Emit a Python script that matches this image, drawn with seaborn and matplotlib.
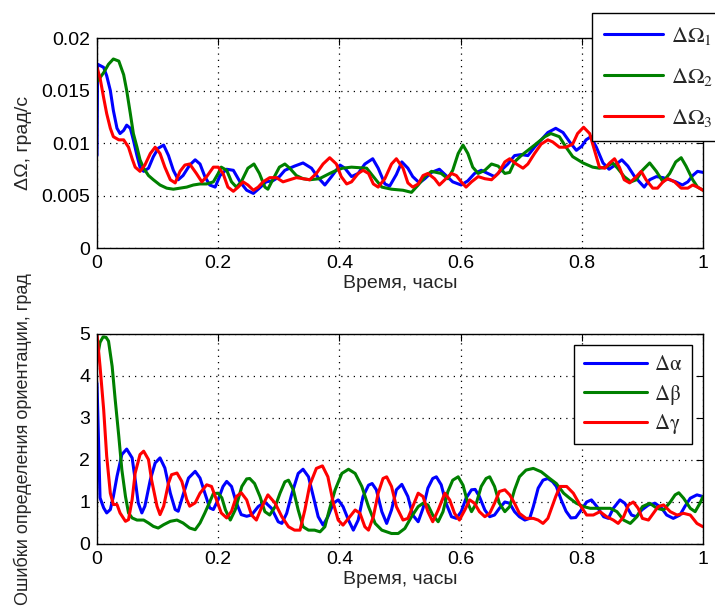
import pandas as pd
import seaborn as sns
import matplotlib.pyplot as plt
from matplotlib.lines import Line2D

# angular rate errors, (time in hours, value in deg/s)
rate_1 = [(0, 0.0088), (0.001, 0.0175), (0.011, 0.0172), (0.016, 0.0164), (0.022, 0.0150), (0.027, 0.0131),
          (0.033, 0.0114), (0.038, 0.0109), (0.044, 0.0112), (0.049, 0.0117), (0.055, 0.0114), (0.06, 0.0103),
          (0.066, 0.0088), (0.071, 0.0077), (0.077, 0.0073), (0.085, 0.0076), (0.093, 0.0087), (0.101, 0.0095),
          (0.11, 0.0098), (0.118, 0.0088), (0.126, 0.0074), (0.134, 0.0065), (0.142, 0.0069), (0.153, 0.0079),
          (0.162, 0.0084), (0.17, 0.0080), (0.178, 0.0068), (0.186, 0.0060), (0.195, 0.0058), (0.203, 0.0069),
          (0.214, 0.0075), (0.225, 0.0074), (0.236, 0.0063), (0.247, 0.0055), (0.258, 0.0052), (0.268, 0.0057),
          (0.279, 0.0063), (0.29, 0.0064), (0.301, 0.0068), (0.31, 0.0074), (0.326, 0.0078), (0.34, 0.0081),
          (0.354, 0.0076), (0.365, 0.0067), (0.376, 0.0060), (0.387, 0.0068), (0.401, 0.0079), (0.409, 0.0076),
          (0.42, 0.0068), (0.431, 0.0071), (0.442, 0.0080), (0.455, 0.0085), (0.464, 0.0076), (0.475, 0.0061),
          (0.483, 0.0059), (0.494, 0.0070), (0.503, 0.0082), (0.513, 0.0076), (0.521, 0.0068), (0.532, 0.0062),
          (0.541, 0.0066), (0.552, 0.0072), (0.565, 0.0075), (0.576, 0.0069), (0.587, 0.0063), (0.601, 0.0060),
          (0.612, 0.0064), (0.623, 0.0071), (0.634, 0.0074), (0.645, 0.0071), (0.656, 0.0068), (0.667, 0.0074),
          (0.678, 0.0080), (0.689, 0.0088), (0.7, 0.0089), (0.711, 0.0088), (0.722, 0.0096), (0.733, 0.0103),
          (0.744, 0.0110), (0.757, 0.0114), (0.769, 0.0110), (0.78, 0.0101), (0.791, 0.0093), (0.8, 0.0097),
          (0.807, 0.0103), (0.815, 0.0106), (0.824, 0.0096), (0.835, 0.0081), (0.845, 0.0075), (0.855, 0.0079),
          (0.866, 0.0084), (0.876, 0.0078), (0.886, 0.0069), (0.895, 0.0063), (0.903, 0.0058), (0.912, 0.0065),
          (0.923, 0.0068), (0.934, 0.0067), (0.945, 0.0065), (0.955, 0.0063), (0.966, 0.0060), (0.975, 0.0063),
          (0.983, 0.0069), (0.991, 0.0073), (1.0, 0.0072)]

rate_2 = [(0.001, 0.0159), (0.011, 0.0167), (0.019, 0.0175), (0.027, 0.0180), (0.036, 0.0178), (0.044, 0.0165),
          (0.049, 0.0150), (0.055, 0.0128), (0.06, 0.0109), (0.066, 0.0096), (0.071, 0.0084), (0.077, 0.0076),
          (0.085, 0.0069), (0.093, 0.0065), (0.104, 0.0060), (0.115, 0.0057), (0.126, 0.0056), (0.137, 0.0057),
          (0.148, 0.0058), (0.159, 0.0060), (0.17, 0.0061), (0.181, 0.0061), (0.192, 0.0063), (0.2, 0.0071),
          (0.205, 0.0077), (0.214, 0.0074), (0.222, 0.0063), (0.23, 0.0058), (0.238, 0.0063), (0.249, 0.0076),
          (0.259, 0.0080), (0.268, 0.0071), (0.277, 0.0058), (0.282, 0.0056), (0.29, 0.0065), (0.301, 0.0077),
          (0.31, 0.0080), (0.318, 0.0076), (0.329, 0.0069), (0.34, 0.0066), (0.351, 0.0065), (0.367, 0.0066),
          (0.384, 0.0071), (0.395, 0.0074), (0.405, 0.0076), (0.42, 0.0077), (0.445, 0.0076), (0.456, 0.0068),
          (0.47, 0.0058), (0.486, 0.0056), (0.505, 0.0055), (0.519, 0.0053), (0.53, 0.0060), (0.541, 0.0068),
          (0.552, 0.0073), (0.568, 0.0071), (0.579, 0.0066), (0.587, 0.0074), (0.596, 0.0090), (0.604, 0.0098),
          (0.612, 0.0090), (0.62, 0.0077), (0.629, 0.0071), (0.64, 0.0074), (0.651, 0.0080), (0.662, 0.0078),
          (0.673, 0.0071), (0.681, 0.0072), (0.689, 0.0082), (0.7, 0.0088), (0.711, 0.0093), (0.722, 0.0098),
          (0.739, 0.0106), (0.749, 0.0109), (0.763, 0.0106), (0.774, 0.0096), (0.785, 0.0087), (0.802, 0.0081),
          (0.818, 0.0077), (0.829, 0.0076), (0.84, 0.0077), (0.851, 0.0081), (0.859, 0.0076), (0.87, 0.0068),
          (0.881, 0.0063), (0.89, 0.0065), (0.9, 0.0074), (0.912, 0.0081), (0.923, 0.0073), (0.934, 0.0063),
          (0.945, 0.0071), (0.955, 0.0082), (0.964, 0.0086), (0.972, 0.0078), (0.983, 0.0065), (0.991, 0.0058),
          (1.0, 0.0055)]

rate_3 = [(0, 0.0172), (0.005, 0.0162), (0.011, 0.0143), (0.016, 0.0128), (0.022, 0.0114), (0.027, 0.0106),
          (0.036, 0.0103), (0.044, 0.0103), (0.052, 0.0096), (0.058, 0.0085), (0.063, 0.0077), (0.071, 0.0073),
          (0.079, 0.0079), (0.088, 0.0090), (0.096, 0.0096), (0.104, 0.0090), (0.112, 0.0077), (0.121, 0.0065),
          (0.129, 0.0062), (0.137, 0.0073), (0.145, 0.0079), (0.153, 0.0080), (0.164, 0.0071), (0.173, 0.0063),
          (0.181, 0.0068), (0.192, 0.0077), (0.2, 0.0077), (0.208, 0.0071), (0.216, 0.0058), (0.225, 0.0054),
          (0.233, 0.0058), (0.241, 0.0063), (0.249, 0.0060), (0.258, 0.0055), (0.266, 0.0058), (0.274, 0.0063),
          (0.285, 0.0067), (0.296, 0.0067), (0.307, 0.0063), (0.318, 0.0065), (0.329, 0.0067), (0.34, 0.0066),
          (0.351, 0.0065), (0.362, 0.0071), (0.373, 0.0080), (0.384, 0.0086), (0.395, 0.0080), (0.403, 0.0068),
          (0.412, 0.0061), (0.42, 0.0063), (0.431, 0.0071), (0.439, 0.0074), (0.448, 0.0071), (0.456, 0.0061),
          (0.464, 0.0058), (0.475, 0.0066), (0.486, 0.0080), (0.494, 0.0085), (0.505, 0.0076), (0.513, 0.0062),
          (0.521, 0.0058), (0.53, 0.0061), (0.538, 0.0069), (0.546, 0.0071), (0.557, 0.0066), (0.565, 0.0060),
          (0.574, 0.0065), (0.585, 0.0071), (0.593, 0.0069), (0.601, 0.0063), (0.609, 0.0058), (0.618, 0.0063),
          (0.629, 0.0068), (0.64, 0.0066), (0.651, 0.0065), (0.662, 0.0071), (0.673, 0.0082), (0.681, 0.0085),
          (0.692, 0.0080), (0.703, 0.0076), (0.711, 0.0080), (0.722, 0.0090), (0.733, 0.0099), (0.744, 0.0103),
          (0.752, 0.0101), (0.763, 0.0096), (0.774, 0.0096), (0.785, 0.0099), (0.793, 0.0109), (0.803, 0.0115),
          (0.813, 0.0109), (0.821, 0.0093), (0.829, 0.0077), (0.838, 0.0076), (0.846, 0.0081), (0.854, 0.0085),
          (0.862, 0.0077), (0.87, 0.0065), (0.879, 0.0062), (0.89, 0.0068), (0.898, 0.0073), (0.906, 0.0065),
          (0.917, 0.0057), (0.925, 0.0057), (0.934, 0.0063), (0.942, 0.0066), (0.953, 0.0063), (0.964, 0.0057),
          (0.975, 0.0057), (0.983, 0.0060), (0.991, 0.0058), (1.0, 0.0055)]

# attitude errors, (time in hours, value in deg)
alpha_err = [(0, 3.83), (0.005, 1.10), (0.011, 0.86), (0.016, 0.74), (0.022, 0.82), (0.027, 1.13), (0.033, 1.61),
             (0.041, 2.13), (0.049, 2.26), (0.058, 2.05), (0.063, 1.53), (0.068, 0.98), (0.074, 0.74), (0.079, 0.90),
             (0.088, 1.53), (0.096, 1.93), (0.104, 2.05), (0.112, 1.81), (0.121, 1.21), (0.129, 0.82), (0.134, 0.78),
             (0.142, 1.17), (0.151, 1.57), (0.162, 1.73), (0.17, 1.57), (0.178, 1.21), (0.186, 0.86), (0.192, 0.82),
             (0.2, 1.06), (0.208, 1.37), (0.214, 1.49), (0.222, 1.37), (0.23, 0.98), (0.238, 0.70), (0.247, 0.66),
             (0.255, 0.69), (0.266, 0.89), (0.277, 1.00), (0.288, 0.85), (0.299, 0.53), (0.305, 0.49), (0.313, 0.73),
             (0.321, 1.17), (0.332, 1.68), (0.34, 1.78), (0.349, 1.60), (0.357, 1.13), (0.365, 0.65), (0.373, 0.45),
             (0.381, 0.65), (0.39, 0.97), (0.398, 1.05), (0.406, 0.89), (0.415, 0.57), (0.423, 0.33), (0.431, 0.57),
             (0.439, 1.13), (0.448, 1.40), (0.454, 1.44), (0.461, 1.29), (0.47, 0.77), (0.478, 0.49), (0.486, 0.81),
             (0.494, 1.29), (0.503, 1.42), (0.513, 1.13), (0.521, 0.69), (0.53, 0.53), (0.538, 0.85), (0.546, 1.33),
             (0.554, 1.56), (0.56, 1.60), (0.568, 1.41), (0.576, 0.97), (0.585, 0.65), (0.593, 0.61), (0.601, 0.77),
             (0.609, 1.09), (0.618, 1.29), (0.624, 1.30), (0.631, 1.13), (0.64, 0.81), (0.648, 0.65), (0.656, 0.69),
             (0.664, 0.85), (0.673, 1.00), (0.681, 0.97), (0.689, 0.77), (0.697, 0.65), (0.706, 0.57), (0.714, 0.61),
             (0.72, 0.89), (0.728, 1.33), (0.736, 1.52), (0.744, 1.56), (0.752, 1.48), (0.758, 1.37), (0.766, 1.05),
             (0.774, 0.78), (0.782, 0.62), (0.79, 0.63), (0.797, 0.77), (0.808, 1.00), (0.816, 1.05), (0.825, 0.89),
             (0.836, 0.65), (0.844, 0.61), (0.852, 0.85), (0.863, 1.05), (0.871, 0.97), (0.882, 0.69), (0.89, 0.65),
             (0.899, 0.81), (0.91, 0.93), (0.921, 0.97), (0.932, 0.85), (0.94, 0.69), (0.951, 0.61), (0.962, 0.69),
             (0.97, 0.89), (0.979, 1.09), (0.99, 1.17), (1.0, 1.13)]

beta_err = [(0, 4.4), (0.005, 4.8), (0.01, 4.93), (0.015, 4.92), (0.019, 4.83), (0.025, 4.23), (0.03, 3.44),
            (0.036, 2.56), (0.041, 1.77), (0.047, 1.13), (0.052, 0.74), (0.058, 0.62), (0.066, 0.57), (0.077, 0.57),
            (0.085, 0.50), (0.093, 0.42), (0.101, 0.38), (0.11, 0.46), (0.121, 0.54), (0.132, 0.57), (0.142, 0.50),
            (0.153, 0.38), (0.162, 0.34), (0.17, 0.50), (0.178, 0.74), (0.186, 1.00), (0.192, 1.20), (0.2, 1.21),
            (0.206, 1.10), (0.212, 0.81), (0.22, 0.57), (0.228, 0.81), (0.239, 1.37), (0.247, 1.55), (0.252, 1.56),
            (0.26, 1.44), (0.269, 1.13), (0.277, 0.77), (0.285, 0.69), (0.294, 0.89), (0.302, 1.21), (0.31, 1.48),
            (0.316, 1.52), (0.324, 1.29), (0.332, 0.81), (0.34, 0.41), (0.349, 0.33), (0.359, 0.33), (0.368, 0.29),
            (0.376, 0.41), (0.384, 0.85), (0.393, 1.29), (0.404, 1.68), (0.415, 1.78), (0.426, 1.68), (0.437, 1.37),
            (0.448, 0.89), (0.459, 0.49), (0.47, 0.33), (0.486, 0.25), (0.497, 0.25), (0.508, 0.37), (0.519, 0.65),
            (0.53, 0.89), (0.538, 0.97), (0.546, 0.93), (0.554, 0.69), (0.563, 0.53), (0.571, 0.77), (0.579, 1.25),
            (0.587, 1.52), (0.596, 1.60), (0.604, 1.40), (0.612, 0.97), (0.618, 0.77), (0.626, 0.97), (0.634, 1.37),
            (0.642, 1.56), (0.648, 1.60), (0.656, 1.37), (0.664, 0.97), (0.673, 0.77), (0.681, 0.89), (0.689, 1.29),
            (0.697, 1.60), (0.708, 1.76), (0.72, 1.80), (0.733, 1.72), (0.747, 1.56), (0.758, 1.44), (0.77, 1.21),
            (0.78, 1.09), (0.791, 0.97), (0.803, 0.89), (0.814, 0.85), (0.847, 0.85), (0.858, 0.77), (0.869, 0.57),
            (0.88, 0.49), (0.891, 0.65), (0.9, 0.89), (0.912, 0.97), (0.924, 0.85), (0.935, 0.81), (0.946, 1.00),
            (0.954, 1.17), (0.96, 1.22), (0.968, 1.09), (0.979, 0.85), (0.987, 0.77), (0.995, 0.97), (1.0, 1.13)]

gamma_err = [(0, 5.0), (0.005, 4.23), (0.011, 3.2), (0.016, 2.09), (0.022, 1.21), (0.027, 0.94), (0.033, 0.94),
             (0.038, 0.74), (0.047, 0.54), (0.052, 0.58), (0.058, 1.06), (0.063, 1.69), (0.071, 2.13), (0.077, 2.21),
             (0.085, 2.01), (0.09, 1.53), (0.099, 0.90), (0.104, 0.70), (0.11, 0.90), (0.118, 1.45), (0.123, 1.65),
             (0.132, 1.69), (0.14, 1.49), (0.148, 1.06), (0.153, 0.90), (0.162, 0.98), (0.17, 1.21), (0.181, 1.41),
             (0.189, 1.37), (0.197, 1.06), (0.205, 0.74), (0.214, 0.62), (0.222, 0.78), (0.23, 1.13), (0.238, 1.22),
             (0.247, 1.05), (0.255, 0.69), (0.263, 0.57), (0.271, 0.85), (0.282, 1.17), (0.294, 0.97), (0.305, 0.65),
             (0.316, 0.41), (0.326, 0.33), (0.335, 0.33), (0.343, 0.81), (0.351, 1.40), (0.362, 1.80), (0.372, 1.86),
             (0.381, 1.60), (0.39, 0.97), (0.398, 0.57), (0.406, 0.45), (0.415, 0.61), (0.426, 0.81), (0.434, 0.73),
             (0.442, 0.41), (0.448, 0.33), (0.456, 0.65), (0.464, 1.21), (0.472, 1.56), (0.478, 1.60), (0.486, 1.37),
             (0.494, 0.89), (0.505, 0.57), (0.513, 0.61), (0.521, 0.89), (0.53, 1.21), (0.538, 1.13), (0.546, 0.77),
             (0.554, 0.53), (0.563, 0.81), (0.574, 1.21), (0.582, 1.05), (0.59, 0.73), (0.598, 0.57), (0.607, 0.81),
             (0.615, 1.05), (0.623, 0.97), (0.631, 0.77), (0.64, 0.65), (0.648, 0.73), (0.656, 0.97), (0.664, 1.25),
             (0.673, 1.29), (0.681, 1.17), (0.689, 0.97), (0.697, 0.73), (0.708, 0.61), (0.72, 0.61), (0.728, 0.57),
             (0.736, 0.49), (0.744, 0.61), (0.751, 0.89), (0.757, 1.13), (0.764, 1.37), (0.775, 1.37), (0.786, 1.21),
             (0.797, 0.93), (0.808, 0.69), (0.819, 0.69), (0.83, 0.77), (0.841, 0.65), (0.852, 0.57), (0.86, 0.49),
             (0.869, 0.65), (0.877, 0.93), (0.885, 1.00), (0.893, 0.85), (0.9, 0.61), (0.91, 0.57), (0.918, 0.73),
             (0.926, 0.89), (0.935, 0.93), (0.946, 0.77), (0.957, 0.69), (0.968, 0.73), (0.979, 0.69), (0.99, 0.49),
             (1.0, 0.41)]

rate_labels = [r'$\Delta\Omega_1$', r'$\Delta\Omega_2$', r'$\Delta\Omega_3$']
angle_labels = ['Δα', 'Δβ', 'Δγ']
colors = ['#0000ff', '#008000', '#ff0000']

x_ticks = [0, 0.2, 0.4, 0.6, 0.8, 1]
x_ticklabels = ['0', '0.2', '0.4', '0.6', '0.8', '1']
rate_ticks = [0, 0.005, 0.01, 0.015, 0.02]
rate_ticklabels = ['0', '0.005', '0.01', '0.015', '0.02']
angle_ticks = [0, 1, 2, 3, 4, 5]


def to_frame(series, labels):
    rows = []
    for pts, lab in zip(series, labels):
        for t, v in pts:
            rows.append({'t': t, 'value': v, 'series': lab})
    return pd.DataFrame(rows)


sns.set_theme(style='white')
plt.rcParams['font.family'] = ['Liberation Sans', 'DejaVu Sans']
plt.rcParams['mathtext.fontset'] = 'stix'

fig = plt.figure(figsize=(7.15, 6.1), dpi=100)
ax1 = fig.add_axes([97 / 715, 1 - 248 / 610, 606 / 715, 210 / 610])
ax2 = fig.add_axes([97 / 715, 1 - 544 / 610, 606 / 715, 210 / 610])

panels = [
    (ax1, to_frame([rate_1, rate_2, rate_3], rate_labels), rate_labels, rate_ticks, rate_ticklabels,
     'ΔΩ, град/с', (0, 0.02), 14),
    (ax2, to_frame([alpha_err, beta_err, gamma_err], angle_labels), angle_labels, angle_ticks,
     [str(v) for v in angle_ticks], 'Ошибки определения ориентации, град', (0, 5), 13),
]

for ax, df, labels, yt, ytl, ylab, ylim, ylab_size in panels:
    sns.lineplot(data=df, x='t', y='value', hue='series', palette=dict(zip(labels, colors)),
                 estimator=None, sort=False, linewidth=2.2, legend=False, ax=ax)
    ax.set_xlim(0, 1)
    ax.set_ylim(*ylim)
    ax.set_xticks(x_ticks)
    ax.set_xticklabels(x_ticklabels)
    ax.set_yticks(yt)
    ax.set_yticklabels(ytl)
    ax.grid(True, color='black', linestyle=(0, (1, 4)), linewidth=0.9)
    ax.tick_params(direction='in', length=5, width=0.8, top=True, right=True,
                   labelsize=14, colors='black', pad=5)
    for s in ax.spines.values():
        s.set_color('black')
        s.set_linewidth(1.0)
    ax.set_xlabel('Время, часы', fontsize=14, labelpad=2)
    ax.set_ylabel(ylab, fontsize=ylab_size)
    ax.yaxis.set_label_coords(-0.108, 0.5)

handles = [Line2D([], [], color=c, linewidth=2.2) for c in colors]
leg1 = ax1.legend(handles, rate_labels, loc='upper left', bbox_to_anchor=(592 / 715, 1 - 13 / 610),
                  bbox_transform=fig.transFigure, fancybox=False, framealpha=1, edgecolor='black',
                  prop={'size': 16}, handlelength=2.65, handletextpad=0.35, labelspacing=0.85,
                  borderpad=0.55, borderaxespad=0)
leg2 = ax2.legend(handles, angle_labels, loc='upper left', bbox_to_anchor=(574 / 715, 1 - 345 / 610),
                  bbox_transform=fig.transFigure, fancybox=False, framealpha=1, edgecolor='black',
                  prop={'family': 'STIXGeneral', 'size': 15}, handlelength=3.0, handletextpad=0.4,
                  labelspacing=0.45, borderpad=0.5, borderaxespad=0)
for leg in (leg1, leg2):
    leg.get_frame().set_linewidth(1.0)

fig.savefig('out.png', dpi=100, facecolor='white')
